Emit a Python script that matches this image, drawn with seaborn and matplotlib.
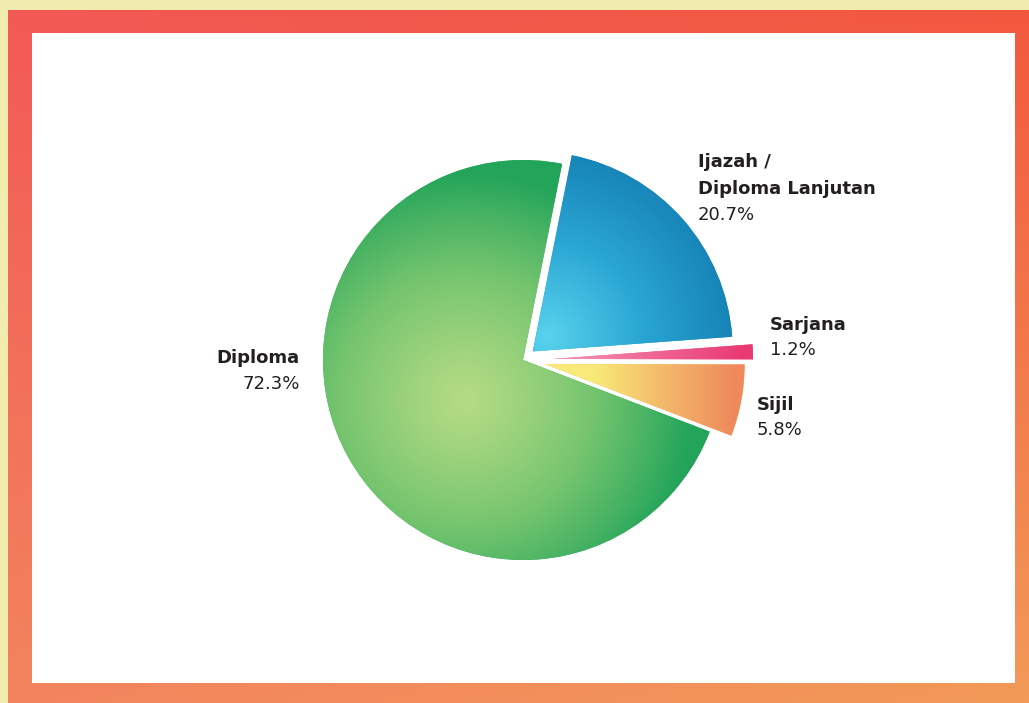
import numpy as np
import matplotlib
matplotlib.use("Agg")
import matplotlib.pyplot as plt
import seaborn as sns
from matplotlib.colors import LinearSegmentedColormap, to_rgb
from matplotlib.patches import Rectangle

# ---- data ----
categories = ["Diploma", "Ijazah /\nDiploma Lanjutan", "Sarjana", "Sijil"]
values = [72.3, 20.7, 1.2, 5.8]
pct_labels = ["72.3%", "20.7%", "1.2%", "5.8%"]
explode = [0.0, 0.065, 0.15, 0.11]

sns.set_theme(style="white")
plt.rcParams['font.family'] = ['DejaVu Sans']

W, H = 1029, 703
fig = plt.figure(figsize=(W / 100, H / 100), dpi=100)
fig.patch.set_facecolor('#f2ebae')

# ---- background frame ----
bg = fig.add_axes([0, 0, 1, 1])
bg.set_xlim(0, W)
bg.set_ylim(H, 0)
bg.axis('off')

n = 100
u = np.linspace(0, 1, n)
U, V = np.meshgrid(u, u)
tl, tr = np.array(to_rgb('#f35955')), np.array(to_rgb('#f2583e'))
bl, br = np.array(to_rgb('#f3845e')), np.array(to_rgb('#f29a58'))
img = ((1 - U)[..., None] * (1 - V)[..., None] * tl + U[..., None] * (1 - V)[..., None] * tr
       + (1 - U)[..., None] * V[..., None] * bl + U[..., None] * V[..., None] * br)
bg.imshow(img, extent=(8, W, H, 10), origin='upper', aspect='auto', interpolation='bilinear', zorder=1)
bg.add_patch(Rectangle((32, 33), 1015 - 32, 683 - 33, facecolor='white', edgecolor='none', zorder=2))

# ---- pie ----
cx, cy, R = 523, 360, 200
ax = fig.add_axes([(cx - 1.5 * R) / W, (H - cy - 1.5 * R) / H, 3 * R / W, 3 * R / H])
base_colors = ['#3aae62', '#2a9ccc', '#ee4f82', '#f4b66a']
wedges, _ = ax.pie(values, explode=explode, startangle=-21, counterclock=False,
                   colors=base_colors, radius=1, wedgeprops=dict(linewidth=0))
ax.set_xlim(-1.5, 1.5)
ax.set_ylim(-1.5, 1.5)
ax.set_aspect('equal')
ax.axis('off')

g = np.linspace(-1.5, 1.5, 600)
GX, GY = np.meshgrid(g, g)


def grad(wedge, field, c0, c1, c_mid=None):
    cols = [c0, c_mid, c1] if c_mid else [c0, c1]
    cmap = LinearSegmentedColormap.from_list('g', cols)
    im = ax.imshow(np.clip(field, 0, 1), cmap=cmap, vmin=0, vmax=1, origin='lower',
                   extent=(-1.5, 1.5, -1.5, 1.5), interpolation='bilinear', zorder=3)
    im.set_clip_path(wedge)


# Diploma: radial green
d = np.hypot(GX + 0.29, GY + 0.2) / 1.15
grad(wedges[0], d ** 1.2, '#b3db84', '#22a45a', '#74c46e')
# Ijazah: radial blue
d = np.hypot(GX - 0.12, GY - 0.12) / 0.95
grad(wedges[1], d, '#58d2ec', '#1682b6', '#2aa6d4')
# Sarjana: linear pink
grad(wedges[2], (GX - 0.25) / 0.85, '#f48fb0', '#e93a74')
# Sijil: linear yellow -> orange
grad(wedges[3], (GX - 0.35) / 0.7, '#f8ea78', '#ef8a5c')

# ---- labels ----
txt = '#231f20'
name_kw = dict(fontsize=13, fontweight='bold', color=txt, va='baseline', zorder=5)
pct_kw = dict(fontsize=13, fontweight='normal', color=txt, va='baseline', zorder=5)

# Diploma (right aligned)
bg.text(300, 363, "Diploma", ha='right', **name_kw)
bg.text(300, 389, pct_labels[0], ha='right', **pct_kw)
# Ijazah
bg.text(698, 167, "Ijazah /", ha='left', **name_kw)
bg.text(698, 194, "Diploma Lanjutan", ha='left', **name_kw)
bg.text(698, 220, pct_labels[1], ha='left', **pct_kw)
# Sarjana
bg.text(770, 330, "Sarjana", ha='left', **name_kw)
bg.text(770, 355, pct_labels[2], ha='left', **pct_kw)
# Sijil
bg.text(757, 410, "Sijil", ha='left', **name_kw)
bg.text(757, 435, pct_labels[3], ha='left', **pct_kw)

fig.savefig('out.png', dpi=100, facecolor=fig.get_facecolor())
